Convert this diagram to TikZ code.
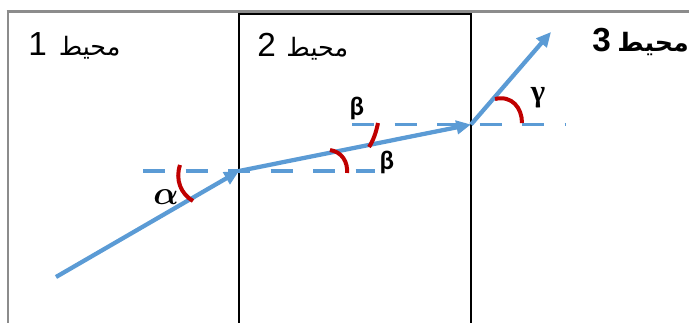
\documentclass[tikz,border=0pt]{standalone}
\usepackage{amsmath}
\usepackage{fontspec}
\usetikzlibrary{arrows.meta}
\TeXXeTstate=1
\newfontfamily\arabicfont[Script=Arabic]{DejaVu Sans}
\newfontfamily\digitfont{Liberation Sans}
\newfontfamily\betafont{Carlito}
\newfontfamily\gammafont{Liberation Serif}
\definecolor{rayblue}{HTML}{5B9BD5}
\definecolor{arcred}{HTML}{C00000}
\definecolor{framegray}{HTML}{8C8C8C}
\newcommand{\arword}{\fontsize{19}{24}\selectfont\arabicfont\beginR محيط\endR}
\tikzset{
  ray/.style={draw=rayblue, line width=3.2pt, -{Triangle[length=11pt,width=10pt]}},
  normalline/.style={draw=rayblue, line width=2.8pt, dash pattern=on 16.5pt off 15.4pt},
  anglearc/.style={draw=arcred, line width=3pt},
  medium/.style={inner sep=0pt, anchor=base west, font=\fontsize{25}{30}\selectfont},
  greek/.style={inner sep=0pt, anchor=center}
}
\begin{document}
\begin{tikzpicture}[x=0.75pt,y=0.75pt]
\useasboundingbox (0,0) rectangle (689,323);
% frame
\draw[framegray, line width=2pt] (6.5,311.5) -- (689,311.5);
\draw[framegray, line width=2pt] (8,311.5) -- (8,0);
\draw[black, line width=1.5pt] (239,0) -- (239,308.5) -- (471,308.5) -- (471,0);
% labels of media
\node[medium] (m1) at (28,267) {\digitfont 1\hspace{9pt}{\arword}};
\node[medium] (m2) at (257,266) {\digitfont 2\hspace{8pt}{\arword}};
\node[medium] (m3) at (592,271) {\bfseries\digitfont 3\hspace{5pt}{\bfseries\arword}};
% points
\coordinate (S) at (56,46);
\coordinate (A) at (239,152);
\coordinate (B) at (471,198.5);
\coordinate (C) at (551,291);
\coordinate (L1) at (143,152);
\coordinate (L2) at (375,152);
\coordinate (U1) at (352,198.5);
\coordinate (U2) at (566,198.5);
% normals (dashed horizontals)
\draw[normalline] (L1) -- (L2);
\draw[normalline] (U1) -- (U2);
% rays
\draw[ray] (S) -- (A);
\draw[ray] (A) -- (B);
\draw[ray] (B) -- (C);
% angle arcs
\draw[anglearc] (180,158) .. controls (175,143) and (181,129) .. (193,122);
\draw[anglearc] (330,173) .. controls (342,171) and (348,161) .. (347,150);
\draw[anglearc] (378,200) .. controls (376,190) and (373,182) .. (369,176);
\draw[anglearc] (495,224) .. controls (512,228) and (522,215) .. (522,200);
% angle labels
\node[greek, font=\fontsize{28}{30}\selectfont] (alpha) at (166,126) {$\boldsymbol{\alpha}$};
\node[greek, font=\fontsize{20}{22}\selectfont\betafont\bfseries] (beta1) at (357,215) {β};
\node[greek, font=\fontsize{20}{22}\selectfont\betafont\bfseries] (beta2) at (387,161) {β};
\node[greek, font=\fontsize{23}{25}\selectfont\gammafont\bfseries] (gamma) at (538,225) {γ};
\end{tikzpicture}
\end{document}
